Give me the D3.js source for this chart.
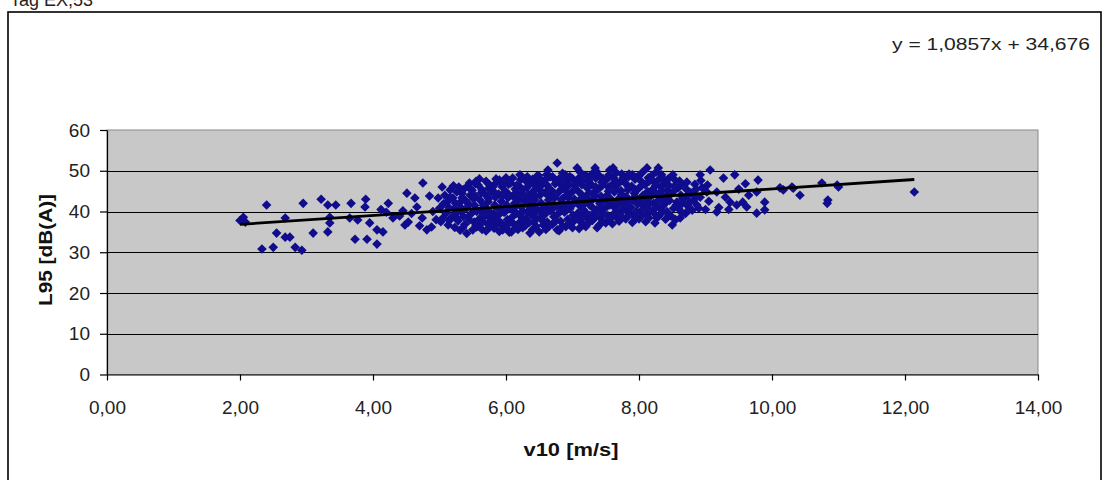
<!DOCTYPE html>
<html>
<head>
<meta charset="utf-8">
<script src="https://cdn.jsdelivr.net/npm/d3@7/dist/d3.min.js"></script>
<style>
  html, body { margin: 0; padding: 0; background: #ffffff; }
  svg { display: block; }
  text { font-family: Arial, "Liberation Sans", sans-serif; }
</style>
</head>
<body>
<svg id="chart" width="1102" height="480"></svg>
<script>
// ---------------- data ----------------
const chartTitle = "Tag EX,53";
const xTitle = "v10 [m/s]";
const yTitle = "L95 [dB(A)]";
const equationLabel = "y = 1,0857x + 34,676";
const slope = 1.0857;
const intercept = 34.676;
const xTicks = [0, 2, 4, 6, 8, 10, 12, 14];
const yTicks = [0, 10, 20, 30, 40, 50, 60];

// sparse low-wind measurements [v10, L95]
const lowWind = [
  [2.0,37.8],[2.05,38.6],[2.08,37.4],[2.4,41.6],[2.68,38.4],[2.55,34.7],[2.68,33.7],[2.75,33.7],
  [2.33,30.8],[2.5,31.2],[2.83,31.2],[2.93,30.5],[2.95,42.0],[3.1,34.7],[3.22,43.0],[3.32,41.6],
  [3.44,41.6],[3.35,37.2],[3.32,35.0],[3.35,38.6],[3.67,42.0],[3.65,38.4],[3.77,37.9],[3.73,33.2],
  [3.89,43.0],[3.88,41.1],[3.95,37.2],[4.06,35.5],[4.15,35.0],[3.91,33.2],[4.06,32.0],[4.23,42.0],
  [4.3,38.4],[4.48,36.7],[4.53,37.4],[4.51,44.5],[4.63,43.3],[4.75,47.0],[4.66,41.1],[4.74,38.4],
  [4.81,35.5],[4.45,40.2],[4.58,39.5],[4.85,43.8],[4.9,40.0],[4.95,38.0],[4.88,36.2],[4.7,36.5],
  [4.4,38.9],[4.2,39.8],[4.12,40.5]
];

// dense mid-wind measurements [v10, L95]
const midWind = [
  [5.02,37.5],[4.98,43.3],[5.04,46.0],[5.0,40.8],
  [5.13,36.7],[5.16,45.3],[5.1,39.6],[5.12,42.4],[5.08,44.0],
  [5.2,43.3],[5.23,36.1],[5.18,38.5],[5.22,40.7],[5.26,38.4],[5.21,46.3],
  [5.31,35.4],[5.28,37.7],[5.33,39.9],[5.3,42.1],[5.34,44.4],[5.29,46.0],[5.32,41.0],
  [5.41,34.6],[5.41,40.9],[5.46,44.0],[5.38,36.8],[5.43,38.7],[5.39,42.7],[5.42,46.2],[5.45,47.0],
  [5.5,35.5],[5.52,37.4],[5.48,39.5],[5.53,41.5],[5.51,43.1],[5.49,45.2],[5.54,46.8],[5.56,36.2],
  [5.58,46.5],[5.61,42.8],[5.6,38.2],[5.62,40.1],[5.63,44.6],[5.59,36.8],[5.64,35.6],[5.6,48.0],
  [5.7,35.2],[5.72,37.0],[5.68,38.9],[5.71,40.6],[5.73,42.4],[5.69,44.1],[5.74,45.7],[5.7,47.4],[5.76,38.4],
  [5.8,46.0],[5.83,41.6],[5.82,35.9],[5.79,37.6],[5.81,39.5],[5.84,43.5],[5.78,44.8],[5.85,48.0],[5.86,36.8],
  [5.9,35.1],[5.92,37.3],[5.88,39.0],[5.91,40.7],[5.93,42.5],[5.89,44.3],[5.94,46.1],[5.9,47.7],[5.95,35.5],
  [6.0,36.2],[6.02,38.0],[5.98,39.8],[6.01,41.6],[6.03,43.4],[5.99,45.0],[6.04,46.7],[6.0,48.3],[6.05,34.9],
  [6.1,48.2],[6.08,35.0],[6.12,36.9],[6.09,38.6],[6.11,40.3],[6.13,42.0],[6.1,43.8],[6.14,45.5],[6.07,47.0],[6.16,43.3],
  [6.21,49.0],[6.21,37.4],[6.18,35.6],[6.2,39.3],[6.23,41.1],[6.19,42.8],[6.24,44.5],[6.2,46.2],[6.22,47.8],[6.25,36.0],
  [6.31,45.8],[6.36,40.9],[6.36,34.7],[6.29,36.5],[6.3,38.3],[6.33,39.9],[6.28,42.6],[6.34,44.1],[6.3,47.5],[6.32,48.5],
  [6.4,35.6],[6.42,37.5],[6.38,39.2],[6.41,41.0],[6.43,42.8],[6.39,44.6],[6.44,46.3],[6.4,47.9],[6.46,47.2],[6.45,36.4],
  [6.51,44.0],[6.56,36.7],[6.5,35.0],[6.52,38.6],[6.48,40.3],[6.53,42.1],[6.5,45.8],[6.54,47.5],[6.49,48.8],[6.55,39.5],
  [6.61,49.0],[6.63,50.2],[6.6,35.6],[6.62,37.4],[6.58,39.2],[6.61,41.0],[6.64,42.8],[6.59,44.6],[6.62,46.4],[6.6,47.9],
  [6.77,51.9],[6.71,41.6],[6.77,35.5],[6.7,36.9],[6.72,38.7],[6.68,40.3],[6.73,43.4],[6.69,45.1],[6.74,46.8],[6.7,48.5],
  [6.8,35.3],[6.82,37.6],[6.78,39.4],[6.81,41.2],[6.83,42.9],[6.79,44.7],[6.84,46.4],[6.8,48.0],[6.86,43.3],[6.85,49.4],
  [6.92,46.5],[6.9,36.3],[6.93,38.1],[6.88,39.8],[6.91,41.6],[6.94,43.4],[6.9,45.1],[6.95,47.9],[6.89,49.0],
  [7.01,39.1],[7.0,36.0],[7.02,37.6],[6.98,41.3],[7.03,43.0],[6.99,44.7],[7.04,46.4],[7.0,48.1],[7.07,50.7],
  [7.1,35.8],[7.12,37.5],[7.08,39.6],[7.11,41.4],[7.13,43.2],[7.09,44.9],[7.14,46.6],[7.1,48.3],[7.16,36.7],[7.12,49.6],
  [7.22,45.8],[7.26,41.6],[7.2,36.3],[7.23,38.1],[7.19,39.9],[7.21,43.5],[7.24,47.3],[7.2,48.9],[7.18,42.0],
  [7.34,50.7],[7.37,36.0],[7.3,37.8],[7.32,39.6],[7.28,41.3],[7.31,43.1],[7.33,44.8],[7.29,46.5],[7.35,48.2],[7.3,49.3],
  [7.4,36.6],[7.42,38.4],[7.38,40.2],[7.41,42.0],[7.43,43.7],[7.39,45.5],[7.44,47.2],[7.4,48.8],[7.45,40.9],
  [7.56,50.2],[7.52,44.0],[7.5,37.2],[7.53,39.0],[7.49,40.8],[7.51,42.5],[7.54,46.0],[7.5,47.7],[7.55,49.0],
  [7.61,39.1],[7.61,50.7],[7.67,38.4],[7.6,37.0],[7.62,41.2],[7.58,43.0],[7.63,44.8],[7.59,46.5],[7.62,48.2],
  [7.76,48.2],[7.7,37.6],[7.72,39.8],[7.68,41.6],[7.71,43.4],[7.73,45.1],[7.69,46.8],[7.74,49.2],[7.75,40.5],
  [7.8,38.2],[7.82,40.0],[7.78,41.8],[7.81,43.6],[7.83,45.3],[7.79,47.0],[7.84,48.5],[7.86,40.9],
  [7.9,37.3],[7.92,39.1],[7.88,41.0],[7.91,42.8],[7.93,44.5],[7.89,46.2],[7.94,47.9],[7.9,49.0],
  [8.06,44.0],[8.0,38.2],[8.02,40.0],[7.98,41.8],[8.03,43.2],[7.99,45.6],[8.04,47.3],[8.0,48.8],
  [8.12,50.7],[8.1,37.5],[8.12,39.4],[8.08,41.2],[8.11,43.0],[8.13,44.9],[8.09,46.6],[8.14,48.3],[8.16,42.0],
  [8.24,37.2],[8.27,38.4],[8.29,50.7],[8.2,40.2],[8.22,42.0],[8.18,43.8],[8.21,45.5],[8.23,47.2],[8.19,48.8],
  [8.3,38.9],[8.32,40.7],[8.28,42.5],[8.31,44.3],[8.33,46.0],[8.29,47.7],[8.34,49.0],[8.36,41.5],
  [8.4,38.1],[8.42,40.0],[8.38,41.8],[8.41,43.6],[8.43,45.3],[8.39,47.0],[8.44,48.0],
  [8.5,36.7],[8.51,49.0],[8.57,42.3],[8.48,38.9],[8.52,40.8],[8.49,44.4],[8.53,46.2],[8.55,47.6],
  [8.62,38.4],[8.6,40.6],[8.63,44.0],[8.59,45.8],[8.61,47.5],[8.65,42.0],
  [8.72,47.2],[8.7,39.5],[8.73,41.4],[8.68,43.2],[8.71,45.5],
  [8.8,40.3],[8.82,42.8],[8.78,44.6],[8.84,46.7],[8.87,41.6],
  [8.9,40.8],[8.92,43.5],[8.95,45.8],[8.93,47.6],
  [9.0,40.5],[9.03,46.5]
];

// overlapping core measurements [v10, L95]
const coreWind = [
  [5.05,38.4],[5.06,41.9],[5.15,37.8],[5.14,41.0],[5.16,43.5],[5.25,39.6],[5.24,42.0],[5.26,44.8],
  [5.35,36.0],[5.36,38.8],[5.34,43.4],[5.36,45.4],
  [5.45,37.9],[5.44,41.8],[5.46,45.6],
  [5.55,36.6],[5.56,40.0],[5.54,43.8],[5.55,47.4],
  [5.65,37.5],[5.66,41.5],[5.64,45.3],
  [5.75,36.1],[5.76,39.8],[5.74,43.2],[5.75,46.6],
  [5.85,38.0],[5.86,41.0],[5.84,44.5],[5.85,47.0],
  [5.95,36.5],[5.96,39.9],[5.94,43.8],[5.95,46.9],
  [6.05,37.2],[6.06,40.6],[6.04,44.2],[6.05,47.5],
  [6.15,36.0],[6.16,39.5],[6.14,41.2],[6.15,44.6],[6.16,46.4],
  [6.25,38.2],[6.26,40.0],[6.24,43.6],[6.25,45.4],[6.26,48.2],
  [6.35,37.3],[6.36,41.8],[6.34,43.2],[6.35,46.6],
  [6.45,38.3],[6.46,40.1],[6.44,43.7],[6.45,45.5],[6.46,48.6],
  [6.55,37.7],[6.56,41.0],[6.54,44.8],[6.55,46.8],
  [6.65,36.4],[6.66,40.2],[6.64,43.8],[6.65,45.6],[6.66,48.5],
  [6.75,37.7],[6.76,41.3],[6.74,44.2],[6.75,47.6],
  [6.85,36.4],[6.86,40.3],[6.84,45.6],[6.85,47.4],
  [6.95,37.1],[6.96,40.7],[6.94,44.2],[6.95,46.5],[6.96,48.6],
  [7.05,38.4],[7.06,42.2],[7.04,45.6],[7.05,47.2],
  [7.15,38.6],[7.16,40.5],[7.14,44.1],[7.15,47.5],
  [7.25,37.3],[7.26,39.0],[7.24,42.6],[7.25,44.6],[7.26,48.0],
  [7.35,38.7],[7.36,40.4],[7.34,43.9],[7.35,46.0],[7.36,49.8],
  [7.45,37.5],[7.46,39.3],[7.44,42.9],[7.45,46.4],[7.46,48.1],
  [7.55,38.1],[7.56,41.6],[7.54,45.0],[7.55,48.4],
  [7.65,39.9],[7.66,42.1],[7.64,45.7],[7.65,47.3],[7.66,49.5],
  [7.75,38.6],[7.76,42.5],[7.74,44.2],[7.75,47.8],
  [7.85,39.1],[7.86,42.7],[7.84,46.1],[7.85,49.2],
  [7.95,38.2],[7.96,40.0],[7.94,43.7],[7.95,45.3],[7.96,48.4],
  [8.05,39.1],[8.06,42.5],[8.04,46.4],[8.05,49.6],
  [8.15,38.4],[8.16,40.3],[8.14,44.0],[8.15,47.4],
  [8.25,39.2],[8.26,41.1],[8.24,44.6],[8.25,46.4],[8.26,49.7],
  [8.35,39.8],[8.36,43.4],[8.34,45.1],[8.35,48.3],
  [8.45,39.1],[8.46,42.7],[8.44,44.4],[8.45,46.4],
  [8.55,38.0],[8.56,41.6],[8.54,45.3],
  [8.65,39.6],[8.66,43.1],[8.64,46.6],
  [8.75,40.4],[8.76,42.2],[8.74,44.0],
  [8.85,43.7],[8.86,45.5]
];

// sparse high-wind measurements [v10, L95]
const highWind = [
  [9.07,50.2],[8.92,49.0],[9.17,39.9],[9.27,48.2],[9.44,49.0],[9.37,42.3],[9.56,42.3],[9.47,41.6],
  [9.62,41.1],[9.79,47.7],[9.77,39.6],[9.89,42.3],[9.89,40.4],[9.77,44.8],[10.12,45.8],[10.3,46.0],
  [10.42,44.0],[9.17,44.8],[9.02,44.8],[10.32,45.7],[10.75,47.0],[11.0,46.0],[10.98,46.5],[10.84,42.8],
  [10.83,42.0],[12.14,44.8],[10.17,45.3],[9.3,43.5],[9.5,45.5],[9.6,46.8],[9.2,41.0],[9.05,42.5],
  [9.35,40.5],[9.65,44.0]
];

// ---------------- drawing ----------------
const svg = d3.select("#chart");
const plot = { left: 107, right: 1038, top: 130, bottom: 374.5 };

const x = d3.scaleLinear().domain([0, 14]).range([plot.left, plot.right]);
const y = d3.scaleLinear().domain([0, 60]).range([plot.bottom, plot.top]);

// top (partly cut) title
svg.append("text")
  .attr("x", 10).attr("y", 6)
  .attr("font-size", 18).attr("fill", "#222")
  .text(chartTitle);

// chart area border
svg.append("rect")
  .attr("x", 8).attr("y", 12)
  .attr("width", 1093).attr("height", 480)
  .attr("fill", "#ffffff").attr("stroke", "#000").attr("stroke-width", 1.6);

// plot area background
svg.append("rect")
  .attr("x", plot.left).attr("y", plot.top)
  .attr("width", plot.right - plot.left).attr("height", plot.bottom - plot.top)
  .attr("fill", "#c8c8c8").attr("stroke", "#8a8a8a").attr("stroke-width", 1);

// gridlines
svg.append("g")
  .selectAll("line")
  .data(yTicks.filter(d => d > 0 && d < 60))
  .join("line")
  .attr("x1", plot.left).attr("x2", plot.right)
  .attr("y1", d => Math.round(y(d)) + 0.5).attr("y2", d => Math.round(y(d)) + 0.5)
  .attr("stroke", "#000").attr("stroke-width", 1);

// axes
const fmtX = d => d.toFixed(2).replace(".", ",");
const xAxis = svg.append("g")
  .attr("transform", `translate(0,${plot.bottom})`)
  .call(d3.axisBottom(x).tickValues(xTicks).tickFormat(fmtX).tickSize(6).tickPadding(20).tickSizeOuter(0));
const yAxis = svg.append("g")
  .attr("transform", `translate(${plot.left},0)`)
  .call(d3.axisLeft(y).tickValues(yTicks).tickFormat(d3.format("d")).tickSize(7).tickPadding(10).tickSizeOuter(0));

[xAxis, yAxis].forEach(g => {
  g.select(".domain").attr("stroke", "#000").attr("stroke-width", 1.2);
  g.selectAll(".tick line").attr("stroke", "#000").attr("stroke-width", 1.2);
  g.selectAll(".tick text")
    .attr("font-size", 19)
    .attr("font-family", "Arial, 'Liberation Sans', sans-serif")
    .attr("fill", "#222");
});

// data points
const allPoints = lowWind.concat(midWind, coreWind, highWind);
const diamond = "M0,-4.8L4.8,0L0,4.8L-4.8,0Z";
svg.append("g")
  .selectAll("path")
  .data(allPoints)
  .join("path")
  .attr("d", diamond)
  .attr("transform", d => `translate(${x(d[0])},${y(d[1])})`)
  .attr("fill", "#100c8e");

// trendline
const xMin = d3.min(allPoints, d => d[0]);
const xMax = d3.max(allPoints, d => d[0]);
svg.append("line")
  .attr("x1", x(xMin)).attr("y1", y(slope * xMin + intercept))
  .attr("x2", x(xMax)).attr("y2", y(slope * xMax + intercept))
  .attr("stroke", "#000").attr("stroke-width", 2.8);

// equation label
svg.append("text")
  .attr("x", 892).attr("y", 50)
  .attr("font-size", 17).attr("fill", "#222")
  .attr("textLength", 198).attr("lengthAdjust", "spacingAndGlyphs")
  .text(equationLabel);

// axis titles
svg.append("text")
  .attr("x", 571).attr("y", 456)
  .attr("text-anchor", "middle")
  .attr("font-size", 18).attr("font-weight", "bold").attr("fill", "#111")
  .attr("textLength", 95).attr("lengthAdjust", "spacingAndGlyphs")
  .text(xTitle);

svg.append("text")
  .attr("transform", `translate(52,250) rotate(-90)`)
  .attr("text-anchor", "middle")
  .attr("font-size", 18).attr("font-weight", "bold").attr("fill", "#111")
  .attr("textLength", 112).attr("lengthAdjust", "spacingAndGlyphs")
  .text(yTitle);
</script>
</body>
</html>
